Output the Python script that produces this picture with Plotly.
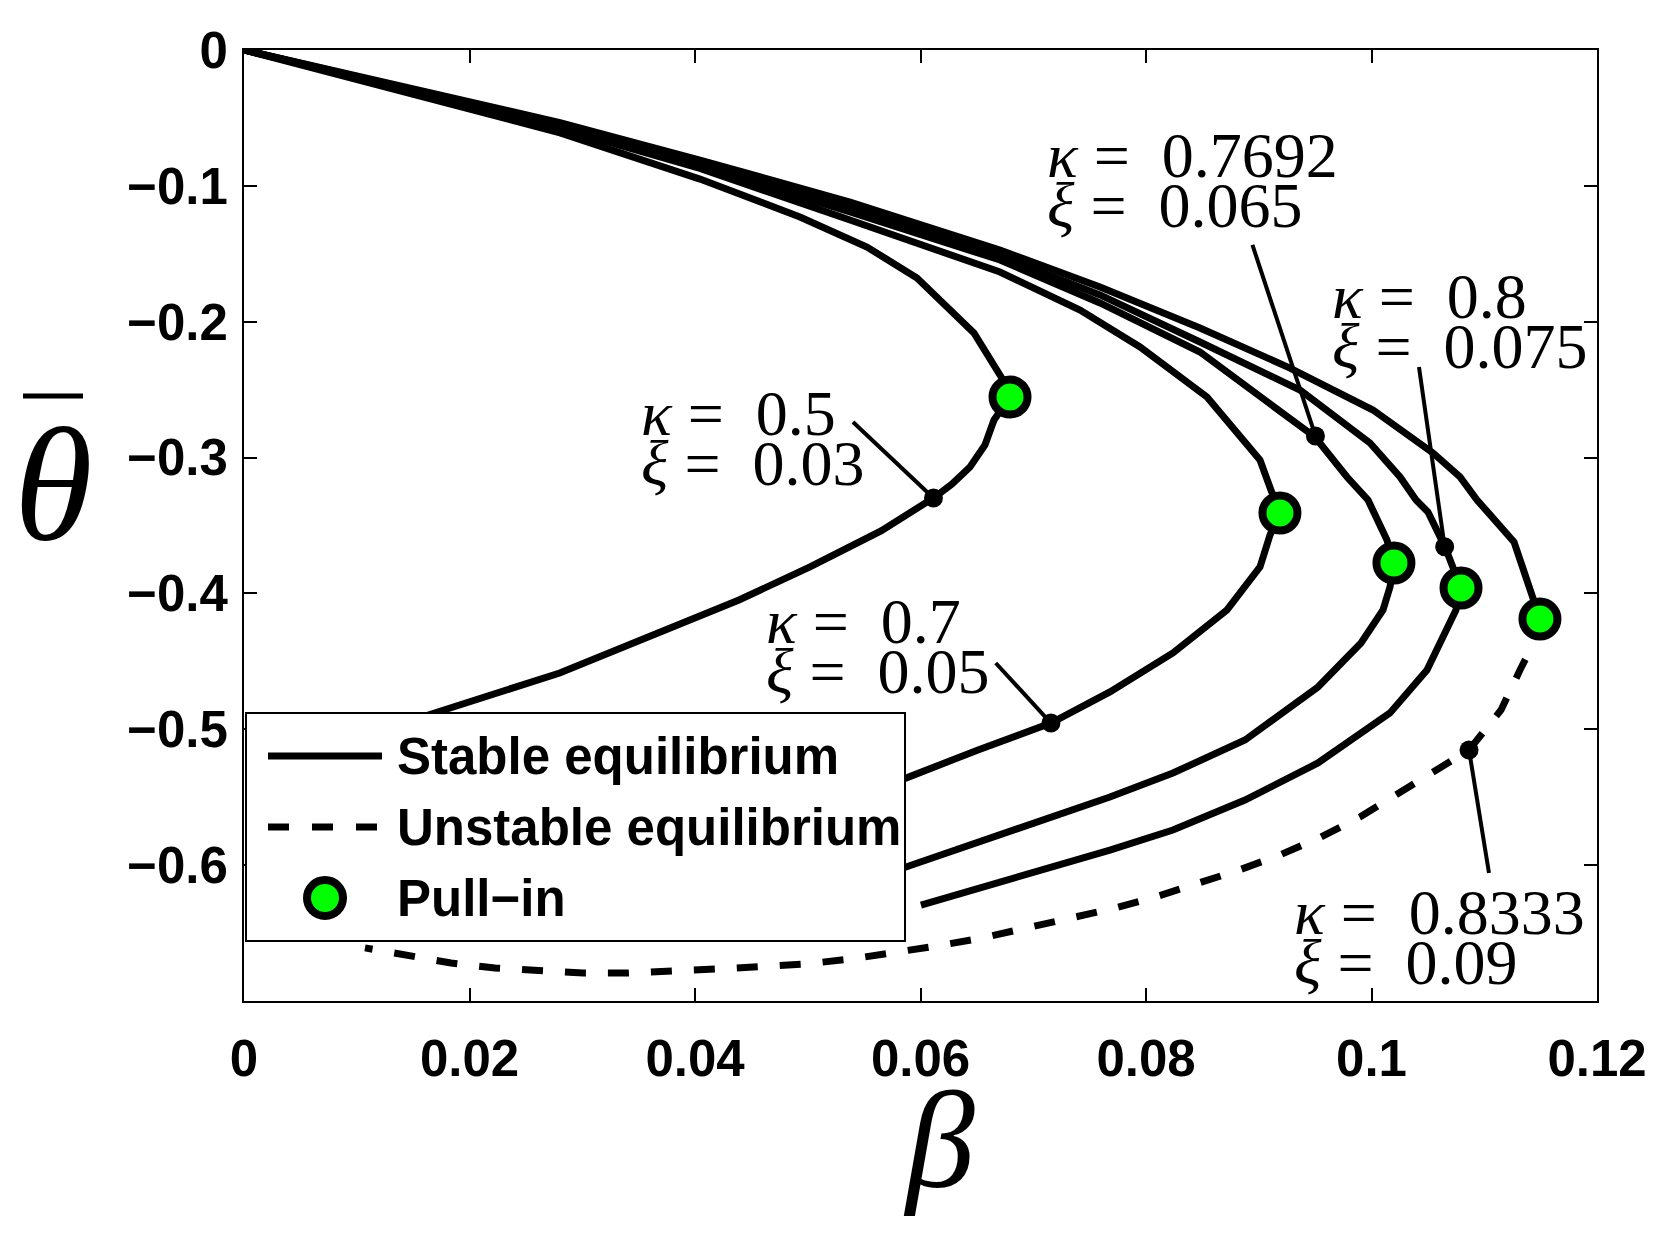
import plotly.graph_objects as go

# ---------------- data (beta on x, theta-bar on y) ----------------
kappa_labels = ['0.5', '0.7', '0.7692', '0.8', '0.8333']
xi_labels = ['0.03', '0.05', '0.065', '0.075', '0.09']

# pull-in point of every curve (green circles)
pullin_beta = [0.06794, 0.09188, 0.10199, 0.10794, 0.11494]
pullin_theta = [-0.2554, -0.3408, -0.3776, -0.3960, -0.4188]

# branch from the origin to the pull-in point
upper_beta = [
    [0, 0.01384, 0.02803, 0.04044, 0.04931, 0.05525, 0.05969, 0.06474, 0.06732],
    [0, 0.01384, 0.02803, 0.04044, 0.05375, 0.06705, 0.07415, 0.07947, 0.08541, 0.09011, 0.09108],
    [0, 0.01384, 0.02803, 0.04044, 0.05375, 0.06705, 0.07592, 0.08479, 0.09499, 0.09783, 0.09969, 0.10137],
    [0, 0.01384, 0.02803, 0.04044, 0.05375, 0.06705, 0.07592, 0.08479, 0.09366, 0.09987, 0.10253, 0.10395,
     0.10501, 0.10652],
    [0, 0.01384, 0.02803, 0.04044, 0.05375, 0.06705, 0.07592, 0.08479, 0.09277, 0.10013, 0.10545, 0.10785,
     0.10936, 0.11264, 0.11441],
]
upper_theta = [
    [0, -0.0298, -0.0610, -0.0950, -0.1229, -0.1450, -0.1678, -0.2083, -0.2429],
    [0, -0.0276, -0.0575, -0.0872, -0.1251, -0.1634, -0.1914, -0.2186, -0.2554, -0.3018, -0.3239],
    [0, -0.0276, -0.0560, -0.0854, -0.1192, -0.1546, -0.1862, -0.2223, -0.2849, -0.3143, -0.3312, -0.3607],
    [0, -0.0272, -0.0548, -0.0832, -0.1163, -0.1516, -0.1803, -0.2149, -0.2503, -0.2893, -0.3143, -0.3312,
     -0.3401, -0.3658],
    [0, -0.0265, -0.0535, -0.0810, -0.1119, -0.1472, -0.1744, -0.2046, -0.2341, -0.2650, -0.2966, -0.3143,
     -0.3312, -0.3621, -0.4048],
]

# branch after the pull-in point (last one is the unstable, dashed one)
lower_beta = [
    [0.06652, 0.06572, 0.06439, 0.06279, 0.06129, 0.0565, 0.0502, 0.0439, 0.0375, 0.0280, 0.0169, 0.0050],
    [0.0910, 0.09011, 0.08718, 0.08239, 0.0768, 0.07157, 0.0651, 0.05871, 0.0300],
    [0.10164, 0.10102, 0.09907, 0.09525, 0.08878, 0.08239, 0.0768, 0.06794, 0.05871, 0.04488],
    [0.10749, 0.10652, 0.10492, 0.10164, 0.09525, 0.08878, 0.08239, 0.0768, 0.06838, 0.06004],
    [0.11406, 0.11317, 0.11149, 0.10865, 0.10581, 0.10253, 0.09898, 0.09552, 0.09188, 0.08825, 0.08443,
     0.0808, 0.07689, 0.07299, 0.06918, 0.06545, 0.06146, 0.05765, 0.05383, 0.04976, 0.04576, 0.04186,
     0.03796, 0.03397, 0.03007, 0.02616, 0.02226, 0.01836, 0.01446, 0.01073],
]
lower_theta = [
    [-0.2723, -0.2907, -0.3069, -0.3195, -0.3290, -0.3540, -0.3805, -0.4048, -0.4269, -0.4586, -0.4880,
     -0.5197],
    [-0.3570, -0.3805, -0.4122, -0.4438, -0.4725, -0.4954, -0.5152, -0.5359, -0.5947],
    [-0.3953, -0.4122, -0.4365, -0.4689, -0.5079, -0.5322, -0.5498, -0.5749, -0.6014, -0.6367],
    [-0.4122, -0.4291, -0.4564, -0.4880, -0.5248, -0.5521, -0.5741, -0.5889, -0.6095, -0.6294],
    [-0.4416, -0.4564, -0.4858, -0.5152, -0.5300, -0.5469, -0.5646, -0.5793, -0.5925, -0.6036, -0.6139,
     -0.6235, -0.6323, -0.6397, -0.6470, -0.6536, -0.6595, -0.6647, -0.6691, -0.6728, -0.6750, -0.6765,
     -0.6779, -0.6794, -0.6794, -0.6779, -0.6757, -0.6720, -0.6668, -0.6609],
]

# labelled points (small black dots) and the other end of their pointer lines
callout_beta = [0.06115, 0.07157, 0.09503, 0.10649, 0.10865]
callout_theta = [-0.3298, -0.4954, -0.2841, -0.3656, -0.5152]
leader_beta = [0.05401, 0.06667, 0.08944, 0.10421, 0.11042]
leader_theta = [-0.2738, -0.4512, -0.1435, -0.2333, -0.6058]

x_ticks = [0, 0.02, 0.04, 0.06, 0.08, 0.1, 0.12]
y_ticks = [0, -0.1, -0.2, -0.3, -0.4, -0.5, -0.6]

legend_labels = ['Stable equilibrium', 'Unstable equilibrium', 'Pull\u2212in']

SANS = 'Liberation Sans, Arial, sans-serif'
SERIF = 'Liberation Serif, Times New Roman, serif'

# the page body has an 8px margin, so the figure is 8px smaller than the window
OFF = 8
W, H = 1669 - OFF, 1237 - OFF
ML, MT, PW, PH = 236, 42, 1353, 951
MR, MB = W - ML - PW, H - MT - PH


def px(X):
    # window pixel -> paper x
    return (X - OFF - ML) / PW


def py(Y):
    # window pixel -> paper y
    return (OFF + MT + PH - Y) / PH


fig = go.Figure()

for i in range(len(kappa_labels)):
    if i < len(kappa_labels) - 1:
        xs = upper_beta[i] + [pullin_beta[i]] + lower_beta[i]
        ys = upper_theta[i] + [pullin_theta[i]] + lower_theta[i]
    else:
        xs = upper_beta[i] + [pullin_beta[i]]
        ys = upper_theta[i] + [pullin_theta[i]]
    fig.add_trace(go.Scatter(x=xs, y=ys, mode='lines', line=dict(color='black', width=7),
                             hoverinfo='skip', showlegend=False))

# unstable branch of the last curve
fig.add_trace(go.Scatter(x=[pullin_beta[-1]] + lower_beta[-1], y=[pullin_theta[-1]] + lower_theta[-1],
                         mode='lines', line=dict(color='black', width=7, dash='21px,22px'),
                         hoverinfo='skip', showlegend=False))

# pointer lines of the labels
for i in range(len(callout_beta)):
    fig.add_trace(go.Scatter(x=[leader_beta[i], callout_beta[i]], y=[leader_theta[i], callout_theta[i]],
                             mode='lines', line=dict(color='black', width=4),
                             hoverinfo='skip', showlegend=False))

fig.add_trace(go.Scatter(x=callout_beta, y=callout_theta, mode='markers',
                         marker=dict(color='black', size=19), hoverinfo='skip', showlegend=False))

fig.add_trace(go.Scatter(x=pullin_beta, y=pullin_theta, mode='markers',
                         marker=dict(color='#00ff00', size=35, line=dict(color='black', width=8)),
                         hoverinfo='skip', showlegend=False))

# kappa / xi labels, one annotation per text line
label_beta = [0.03503, 0.04612, 0.07104, 0.09632, 0.09295]
label_theta_kappa = [-0.2672, -0.4210, -0.0773, -0.1811, -0.6345]
label_theta_xi = [-0.3047, -0.4578, -0.1148, -0.2186, -0.6713]
annotations = []
nb = '\u00a0'
for i in range(len(kappa_labels)):
    for txt, yy in [('<i>\u03ba</i>' + nb + '=' + nb + nb + kappa_labels[i], label_theta_kappa[i]),
                    ('<i>\u03be</i>' + nb + '=' + nb + nb + xi_labels[i], label_theta_xi[i])]:
        annotations.append(dict(x=label_beta[i], y=yy, xref='x', yref='y', text=txt, showarrow=False,
                                xanchor='left', yanchor='middle',
                                font=dict(family=SERIF, size=64, color='black')))

# axis titles
annotations.append(dict(x=px(53), y=py(485), xref='paper', yref='paper', text='<i>\u03b8</i>',
                        showarrow=False, xanchor='center', yanchor='middle',
                        font=dict(family=SERIF, size=160, color='black')))
annotations.append(dict(x=px(939), y=py(1140), xref='paper', yref='paper', text='<i>\u03b2</i>',
                        showarrow=False, xanchor='center', yanchor='middle',
                        font=dict(family=SERIF, size=138, color='black')))

# legend box drawn by hand (long line samples like the original)
shapes = [
    dict(type='line', xref='paper', yref='paper', x0=px(23), x1=px(83), y0=py(396), y1=py(396),
         line=dict(color='black', width=5)),
    dict(type='rect', xref='paper', yref='paper', x0=px(246), x1=px(905), y0=py(941), y1=py(713),
         fillcolor='white', line=dict(color='black', width=2), layer='above'),
    dict(type='line', xref='paper', yref='paper', x0=px(268), x1=px(382), y0=py(756), y1=py(756),
         line=dict(color='black', width=7)),
    dict(type='line', xref='paper', yref='paper', x0=px(268), x1=px(382), y0=py(827), y1=py(827),
         line=dict(color='black', width=7, dash='21px,23px')),
    dict(type='circle', xref='paper', yref='paper', x0=px(307), x1=px(343), y0=py(916), y1=py(880),
         fillcolor='#00ff00', line=dict(color='black', width=8)),
]
for lab, Y in zip(legend_labels, [756, 827, 898]):
    annotations.append(dict(x=px(395), y=py(Y), xref='paper', yref='paper', text=lab, showarrow=False,
                            xanchor='left', yanchor='middle',
                            font=dict(family=SANS, size=51, color='black', weight='bold')))

axis_common = dict(showline=True, linecolor='black', linewidth=2, mirror='ticks', ticks='inside',
                   ticklen=13, tickwidth=2, tickcolor='black', showgrid=False, zeroline=False,
                   tickfont=dict(family=SANS, size=51, color='black', weight='bold'))

fig.update_xaxes(range=[0, 0.12], tickvals=x_ticks, ticklabelstandoff=12, **axis_common)
fig.update_yaxes(range=[-0.7, 0], tickvals=y_ticks, ticklabelstandoff=4, **axis_common)

fig.update_layout(width=W, height=H, margin=dict(l=ML, r=MR, t=MT, b=MB),
                  plot_bgcolor='white', paper_bgcolor='white',
                  annotations=annotations, shapes=shapes, showlegend=False)

fig.write_html("out.html")
